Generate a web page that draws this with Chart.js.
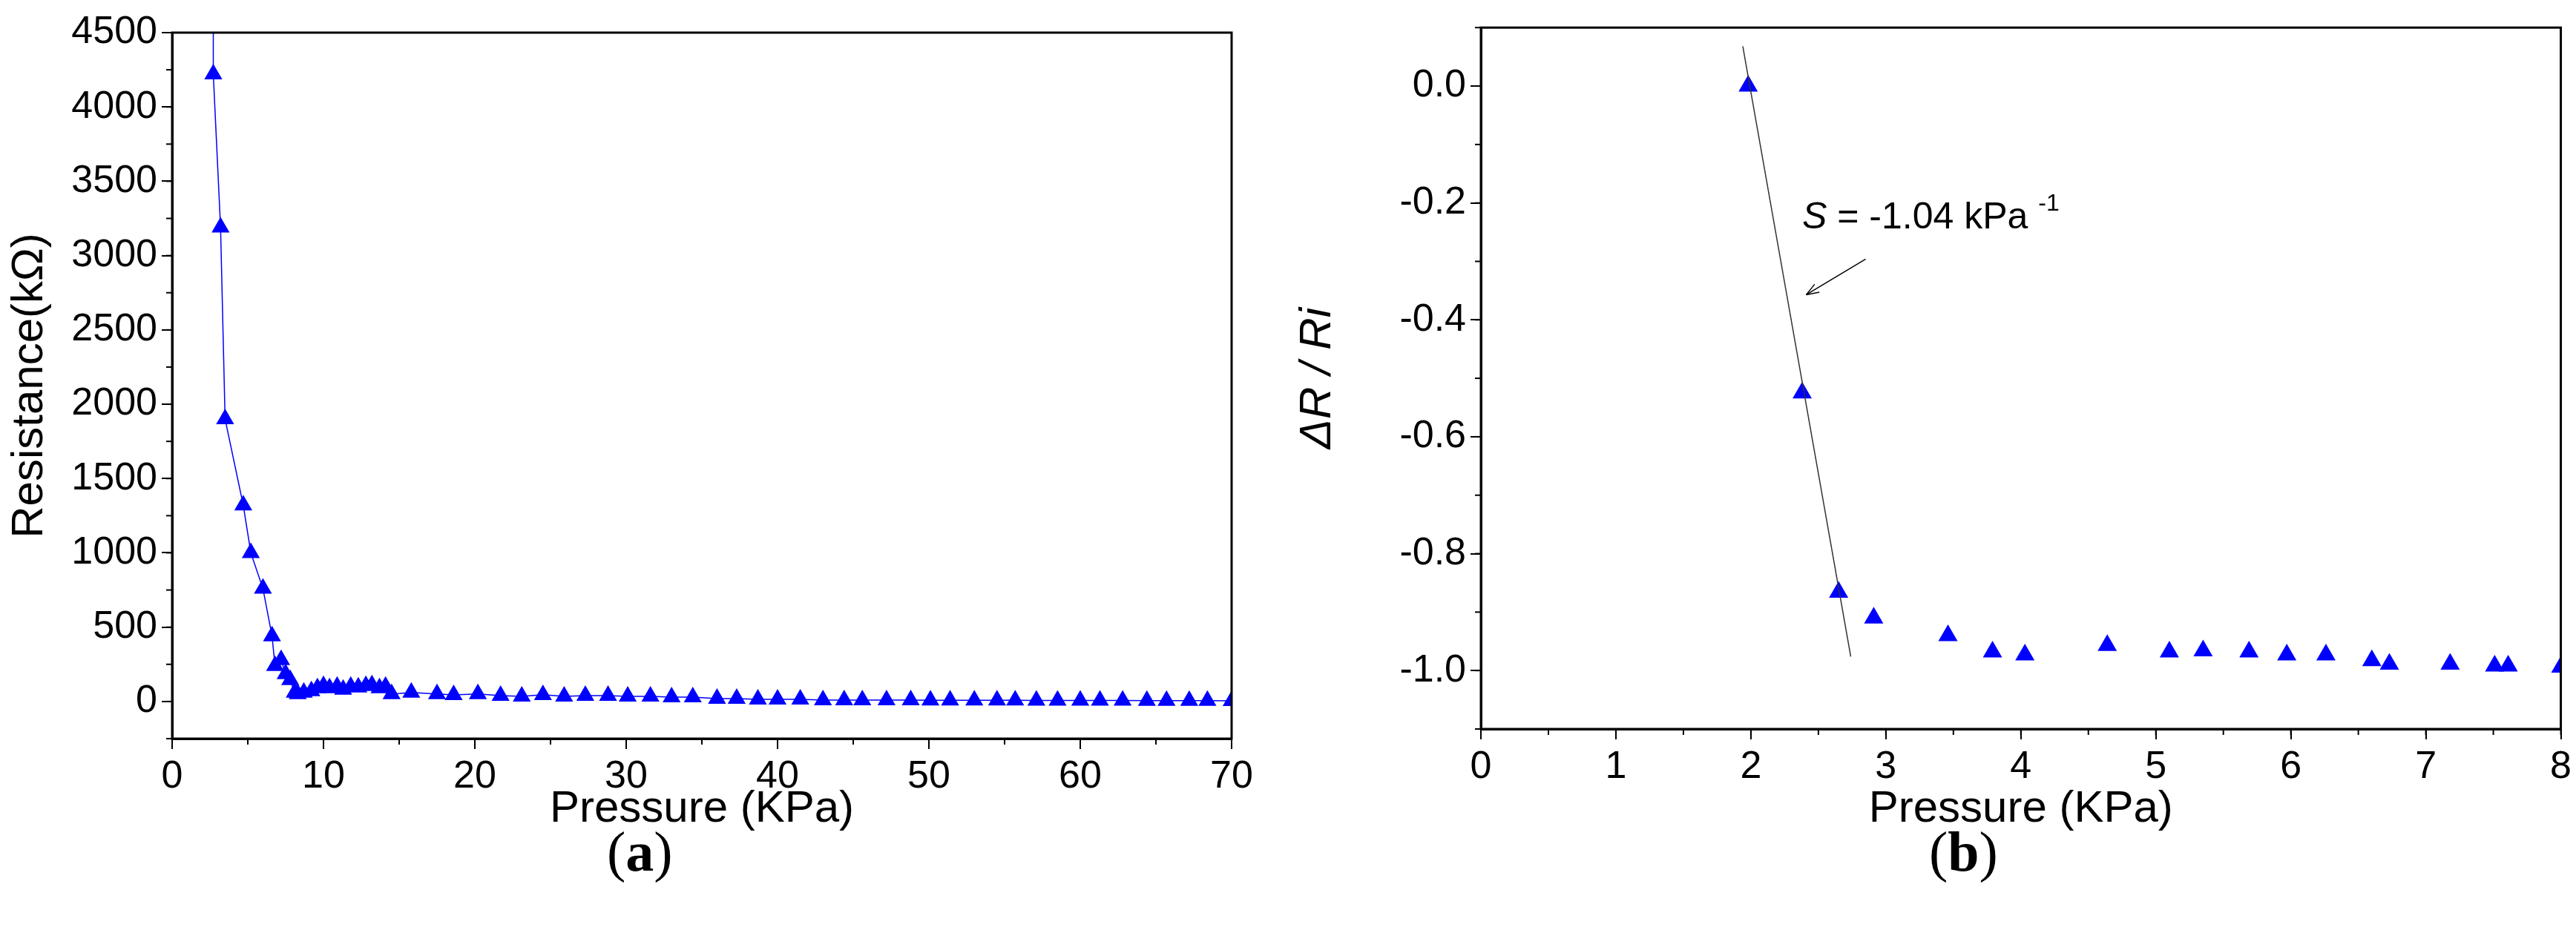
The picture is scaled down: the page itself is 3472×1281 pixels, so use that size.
<!DOCTYPE html>
<html><head><meta charset="utf-8">
<script src="https://cdn.jsdelivr.net/npm/chart.js@4"></script>
<style>
body{margin:0;background:#fff;width:3472px;height:1281px;position:relative;overflow:hidden}
canvas{position:absolute;top:0}
.lab{position:absolute;font-family:'Liberation Serif',serif;font-size:76px;top:1105px}
</style></head><body>
<div style="position:absolute;left:0;top:0;width:1736px;height:1281px"><canvas id="c1"></canvas></div>
<div style="position:absolute;left:1736px;top:0;width:1736px;height:1281px"><canvas id="c2"></canvas></div>
<div class="lab" style="left:818px">(<b>a</b>)</div>
<div class="lab" style="left:2600px">(<b>b</b>)</div>
<script>
const pressureA=[2.72,2.72,3.2,3.5,4.7,5.2,6.0,6.6,6.8,7.2,7.5,7.8,8.1,8.3,8.7,9.2,9.6,10.0,10.4,10.9,11.3,11.8,12.3,12.8,13.2,13.7,14.1,14.5,15.8,17.5,18.6,20.2,21.7,23.1,24.5,25.9,27.3,28.8,30.1,31.6,33.0,34.4,36.0,37.3,38.7,40.0,41.5,43.0,44.4,45.6,47.2,48.8,50.1,51.4,53.0,54.5,55.7,57.1,58.5,60.0,61.3,62.8,64.4,65.7,67.2,68.4,70.0];
const resistanceA=[5200,4220,3190,1900,1320,1000,760,440,240,280,185,145,60,50,60,70,90,105,90,100,80,100,95,105,110,90,100,50,60,50,45,50,40,35,45,35,40,40,35,35,30,30,20,20,15,15,15,10,10,10,10,10,8,8,8,8,8,7,7,7,7,7,6,6,6,6,5];
const pressureB=[1.98,2.38,2.65,2.91,3.46,3.79,4.03,4.64,5.10,5.35,5.69,5.97,6.26,6.60,6.73,7.18,7.51,7.61,8.0];
const ratioB=[0,-0.525,-0.866,-0.91,-0.94,-0.968,-0.973,-0.957,-0.968,-0.966,-0.968,-0.973,-0.973,-0.983,-0.989,-0.989,-0.992,-0.992,-0.994];
const fitX=[1.94,2.74];
const fitY=[0.068,-0.976];
const xTicksA=[0,10,20,30,40,50,60,70];
const yTicksA=[0,500,1000,1500,2000,2500,3000,3500,4000,4500];
const xTicksB=[0,1,2,3,4,5,6,7,8];
const yTicksB=[0,-0.2,-0.4,-0.6,-0.8,-1.0];

const F="'Liberation Sans Narrow','Liberation Sans',Arial,sans-serif";
const frame={id:'frame',afterDraw(c,a,o){const g=c.ctx,ca=c.chartArea;g.save();g.strokeStyle='#000';g.lineWidth=3;
 g.strokeRect(ca.left,ca.top,ca.right-ca.left,ca.bottom-ca.top);
 const xs=c.scales.x,ys=c.scales.y;g.lineWidth=2;
 for(let v=o.xmin;v<=o.xmax+1e-9;v+=o.xm){const p=xs.getPixelForValue(v);g.beginPath();g.moveTo(p,ca.bottom);g.lineTo(p,ca.bottom+8);g.stroke();}
 for(let v=o.ymin;v<=o.ymax+1e-9;v+=o.ym){const p=ys.getPixelForValue(v);g.beginPath();g.moveTo(ca.left,p);g.lineTo(ca.left-8,p);g.stroke();}
 g.restore();}};
function scales(xmin,xmax,xt,ymin,ymax,yt,yw,xh,ytitle,yfmt,yitalic){
 return {x:{type:'linear',min:xmin,max:xmax,afterBuildTicks:s=>{s.ticks=xt.map(v=>({value:v}))},afterFit:s=>{s.height=xh},
  grid:{drawOnChartArea:false,tickLength:14,color:'#000',lineWidth:2},border:{color:'#000',width:3},
  ticks:{color:'#000',font:{family:F,size:52},padding:6,maxRotation:0},
  title:{display:true,text:'Pressure (KPa)',color:'#000',font:{family:F,size:60},padding:{top:14}}},
 y:{type:'linear',min:ymin,max:ymax,afterBuildTicks:s=>{s.ticks=yt.map(v=>({value:v}))},afterFit:s=>{s.width=yw},
  grid:{drawOnChartArea:false,tickLength:14,color:'#000',lineWidth:2},border:{color:'#000',width:3},
  ticks:{color:'#000',font:{family:F,size:52},padding:6,callback:yfmt},
  title:{display:true,text:ytitle,color:'#000',font:{family:F,size:60,style:yitalic?'italic':'normal'},padding:{bottom:6}}}};
}
new Chart(document.getElementById('c1'),{type:'scatter',
 data:{datasets:[{data:pressureA.map((x,i)=>({x,y:resistanceA[i]})),showLine:true,borderColor:'#0000ff',borderWidth:1.5,
  backgroundColor:'#0000ff',pointStyle:'triangle',pointRadius:c=>c.dataIndex===0?0:14,pointBorderWidth:0}]},
 options:{responsive:true,maintainAspectRatio:false,animation:false,events:[],
  layout:{padding:{left:0,right:76,top:44,bottom:150}},
  plugins:{legend:{display:false},tooltip:{enabled:false},frame:{xmin:0,xmax:70,xm:5,ymin:-250,ymax:4500,ym:250}},
  scales:scales(0,70,xTicksA,-250,4500,yTicksA,232,135,'Resistance(kΩ)',v=>v,false)},
 plugins:[frame]});
const annot={id:'annot',afterDraw(c){const g=c.ctx,xs=c.scales.x,ys=c.scales.y;g.save();
 const tx=xs.getPixelForValue(2.38),ty=ys.getPixelForValue(-0.244);
 g.fillStyle='#000';g.font="italic 50px "+F;g.fillText('S',tx,ty);let w=g.measureText('S ').width;
 g.font="50px "+F;g.fillText('= -1.04 kPa',tx+w,ty);w+=g.measureText('= -1.04 kPa ').width;
 g.font="32px "+F;g.fillText('-1',tx+w,ty-24);
 const x1=xs.getPixelForValue(2.85),y1=ys.getPixelForValue(-0.296),x2=xs.getPixelForValue(2.41),y2=ys.getPixelForValue(-0.357);
 g.strokeStyle='#000';g.lineWidth=1.5;g.beginPath();g.moveTo(x1,y1);g.lineTo(x2,y2);g.stroke();
 const an=Math.atan2(y2-y1,x2-x1);g.beginPath();g.moveTo(x2,y2);g.lineTo(x2-18*Math.cos(an-0.35),y2-18*Math.sin(an-0.35));
 g.moveTo(x2,y2);g.lineTo(x2-18*Math.cos(an+0.35),y2-18*Math.sin(an+0.35));g.stroke();g.restore();}};
new Chart(document.getElementById('c2'),{type:'scatter',
 data:{datasets:[
  {data:fitX.map((x,i)=>({x,y:fitY[i]})),showLine:true,borderColor:'#333',borderWidth:1.5,pointRadius:0},
  {data:pressureB.map((x,i)=>({x,y:ratioB[i]})),backgroundColor:'#0000ff',pointStyle:'triangle',pointRadius:15,pointBorderWidth:0}]},
 options:{responsive:true,maintainAspectRatio:false,animation:false,events:[],
  layout:{padding:{left:0,right:17,top:37,bottom:150}},
  plugins:{legend:{display:false},tooltip:{enabled:false},frame:{xmin:0,xmax:8,xm:0.5,ymin:-1.1,ymax:0.1,ym:0.1}},
  scales:scales(0,8,xTicksB,-1.1,0.1,yTicksB,260,148,'ΔR / Ri',v=>v.toFixed(1),true)},
 plugins:[frame,annot]});
</script></body></html>
